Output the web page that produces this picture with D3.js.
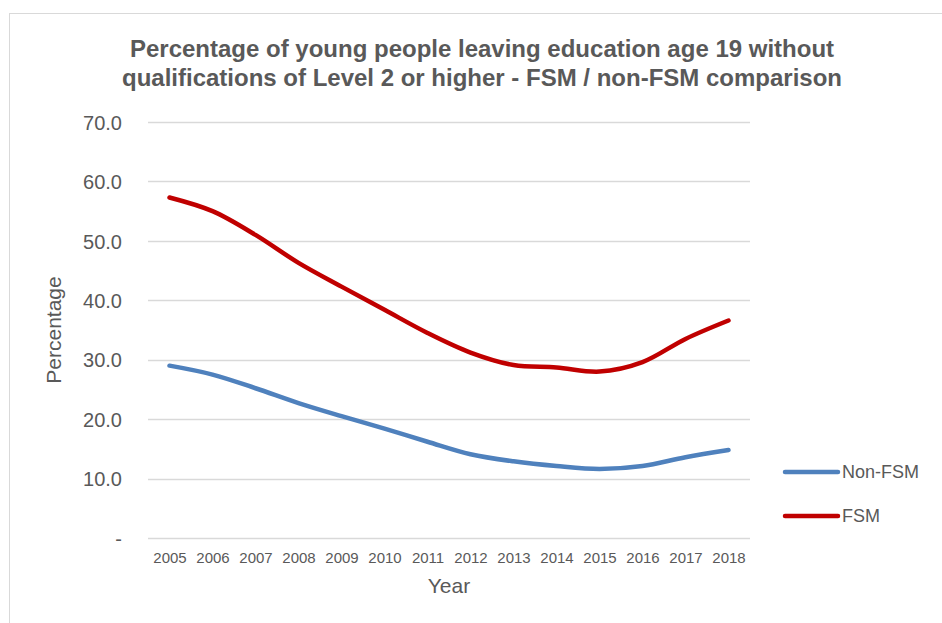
<!DOCTYPE html>
<html>
<head>
<meta charset="utf-8">
<script src="https://cdn.jsdelivr.net/npm/d3@7"></script>
<style>
  html, body { margin: 0; padding: 0; background: #fff; }
  svg { display: block; font-family: "Liberation Sans", Arial, sans-serif; }
</style>
</head>
<body>
<svg id="chart" width="942" height="623"></svg>
<script>
const years = ["2005","2006","2007","2008","2009","2010","2011","2012","2013","2014","2015","2016","2017","2018"];
const nonFSM = [29.0, 27.5, 25.2, 22.7, 20.5, 18.4, 16.2, 14.1, 12.9, 12.1, 11.6, 12.1, 13.6, 14.8];
const fsm = [57.3, 55.0, 51.0, 46.3, 42.3, 38.4, 34.5, 31.2, 29.1, 28.7, 28.0, 29.6, 33.5, 36.6];
const yTicks = [0, 10, 20, 30, 40, 50, 60, 70];
const seriesNames = ["Non-FSM", "FSM"];
const seriesColors = ["#4f81bd", "#c00000"];
const titleLines = ["Percentage of young people leaving education age 19 without", "qualifications of Level 2 or higher - FSM / non-FSM comparison"];

const svg = d3.select("#chart");
const textColor = "#595959";

// chart frame
svg.append("rect").attr("x", 9.5).attr("y", 13.5).attr("width", 960).attr("height", 640)
  .attr("fill", "none").attr("stroke", "#d9d9d9").attr("stroke-width", 1);

const plotLeft = 148, plotRight = 750, plotTop = 122, plotBottom = 538;
const x = d3.scalePoint().domain(years).range([plotLeft, plotRight]).padding(0.5);
const y = d3.scaleLinear().domain([0, 70]).range([plotBottom, plotTop]);

// title
svg.append("text").attr("text-anchor", "middle")
  .attr("fill", textColor).attr("font-weight", "bold").attr("font-size", 24)
  .selectAll("tspan").data(titleLines).join("tspan")
  .attr("x", 482).attr("y", (d, i) => 57 + i * 29).text(d => d);

// gridlines
svg.append("g").selectAll("line").data(yTicks).join("line")
  .attr("x1", plotLeft).attr("x2", plotRight)
  .attr("y1", d => Math.round(y(d)) + 0.5).attr("y2", d => Math.round(y(d)) + 0.5)
  .attr("stroke", "#d9d9d9").attr("stroke-width", 1.5);

// y axis labels
const yAxis = d3.axisLeft(y).tickValues(yTicks).tickSize(0).tickPadding(0)
  .tickFormat(d => d === 0 ? "-" : d3.format(".1f")(d));
const yg = svg.append("g").attr("transform", `translate(${122},0)`).call(yAxis);
yg.select(".domain").remove();
yg.selectAll("text").attr("fill", textColor).attr("font-size", 20)
  .attr("font-family", "Liberation Sans, Arial, sans-serif").attr("dy", "0.36em");

// x axis labels
const xAxis = d3.axisBottom(x).tickSize(0).tickPadding(0);
const xg = svg.append("g").attr("transform", `translate(0,${563})`).call(xAxis);
xg.select(".domain").remove();
xg.selectAll("text").attr("fill", textColor).attr("font-size", 15)
  .attr("font-family", "Liberation Sans, Arial, sans-serif").attr("dy", "0");

// axis titles
svg.append("text").attr("x", 449).attr("y", 593).attr("text-anchor", "middle")
  .attr("fill", textColor).attr("font-size", 21).text("Year");
svg.append("text").attr("transform", "translate(61,330) rotate(-90)").attr("text-anchor", "middle")
  .attr("fill", textColor).attr("font-size", 21).text("Percentage");

// lines
const line = d3.line().x((d, i) => x(years[i])).y(d => y(d)).curve(d3.curveCatmullRom.alpha(0.5));
const allSeries = [nonFSM, fsm];
svg.append("g").selectAll("path").data(allSeries).join("path")
  .attr("d", d => line(d)).attr("fill", "none")
  .attr("stroke", (d, i) => seriesColors[i]).attr("stroke-width", 4.5)
  .attr("stroke-linecap", "round").attr("stroke-linejoin", "round");

// legend
const lg = svg.append("g").selectAll("g").data(seriesNames).join("g")
  .attr("transform", (d, i) => `translate(0,${472 + i * 44})`);
lg.append("line").attr("x1", 785).attr("x2", 838).attr("y1", 0).attr("y2", 0)
  .attr("stroke", (d, i) => seriesColors[i]).attr("stroke-width", 4.5).attr("stroke-linecap", "round");
lg.append("text").attr("x", 842).attr("y", 0).attr("dy", "0.36em")
  .attr("fill", textColor).attr("font-size", 18).text(d => d);
</script>
</body>
</html>
